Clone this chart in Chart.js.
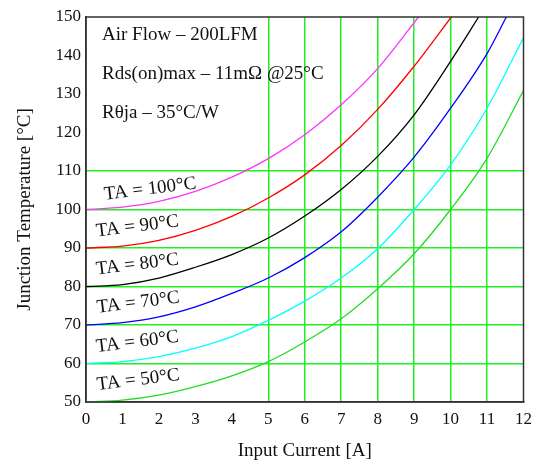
<!DOCTYPE html>
<html lang="en">
<head>
<meta charset="UTF-8">
<title>Junction Temperature vs Input Current</title>
<script src="https://cdn.jsdelivr.net/npm/chart.js@4.4.1/dist/chart.umd.min.js"></script>
<style>
  html, body { margin: 0; padding: 0; background: #fff; }
  #wrap { width: 539px; height: 466px; }
</style>
</head>
<body>
<div id="wrap"><canvas id="chart" width="539" height="466"></canvas></div>
<script>
// values
const currentA = [0, 1, 2, 3, 4, 5, 6, 7, 8, 9, 10, 11, 12];
const tj50  = [50, 50.5, 51.8, 54, 56.8, 60.5, 65.6, 71.6, 79.4, 88.5, 100, 113.3, 130.9];
const tj60  = [60, 60.5, 61.8, 64, 67, 71.2, 76.2, 82.2, 89.8, 100, 111.6, 126.3, 144.6];
const tj70  = [70, 70.6, 72.1, 74.7, 78.2, 82.2, 87.5, 94.2, 103.2, 113.6, 126.3, 140.5];
const tj80  = [80, 80.5, 82.2, 85, 88.3, 92.6, 98.3, 105.2, 113.8, 124.6, 138.5];
const tj90  = [90, 90.5, 92, 94.6, 98.2, 103, 109, 116.6, 126, 137.2];
const tj100 = [100, 100.6, 102.1, 104.7, 108.4, 113.2, 119.4, 127.2, 136.6];
// current where each curve leaves the top of the plot (150 °C)
const exitCurrent = [null, null, 11.53, 10.77, 10.02, 9.12];
const topTemp = 150;

const seriesNames = ['TA = 50°C', 'TA = 60°C', 'TA = 70°C', 'TA = 80°C', 'TA = 90°C', 'TA = 100°C'];
const seriesTemps = [tj50, tj60, tj70, tj80, tj90, tj100];
const seriesColors = ['#22dd22', '#00ffff', '#0000ff', '#000000', '#ff0000', '#ff33ff'];

// where the TA labels sit, in data units
const labelCurrent = [1.43, 1.41, 1.43, 1.41, 1.41, 1.76];
const labelTemp = [55.7, 65.6, 75.8, 85.7, 95.6, 105.3];

const notes = ['Air Flow – 200LFM', 'Rds(on)max – 11mΩ @25°C', 'Rθja – 35°C/W'];

const serif = "'Liberation Serif', 'DejaVu Serif', serif";
const gridGreen = '#22ee22';

const datasets = seriesTemps.map((temps, i) => {
  const pts = temps.map((t, k) => ({ x: currentA[k], y: t }));
  if (exitCurrent[i] !== null) pts.push({ x: exitCurrent[i], y: topTemp });
  return {
    label: seriesNames[i],
    data: pts,
    borderColor: seriesColors[i],
    borderWidth: 1.3,
    pointRadius: 0,
    showLine: true,
    fill: false,
    cubicInterpolationMode: 'monotone'
  };
});

const textPlugin = {
  id: 'texts',
  afterDatasetsDraw(chart) {
    const { ctx, chartArea, scales } = chart;
    ctx.save();
    // frame
    ctx.strokeStyle = '#333';
    ctx.lineWidth = 1.5;
    ctx.strokeRect(chartArea.left, chartArea.top, chartArea.right - chartArea.left, chartArea.bottom - chartArea.top);
    // notes in the corner
    ctx.fillStyle = '#111';
    ctx.font = '19px ' + serif;
    ctx.textBaseline = 'middle';
    ctx.textAlign = 'left';
    notes.forEach((n, i) => {
      ctx.fillText(n, chartArea.left + 16, chartArea.top + 18 + i * 39);
    });
    // TA labels, slightly tilted
    ctx.textAlign = 'center';
    seriesNames.forEach((name, i) => {
      const px = scales.x.getPixelForValue(labelCurrent[i]);
      const py = scales.y.getPixelForValue(labelTemp[i]);
      ctx.save();
      ctx.translate(px, py);
      ctx.rotate(-7 * Math.PI / 180);
      ctx.fillText(name, 0, 0);
      ctx.restore();
    });
    ctx.restore();
  }
};

new Chart(document.getElementById('chart'), {
  type: 'scatter',
  data: { datasets },
  options: {
    responsive: false,
    animation: false,
    layout: { padding: { top: 17, right: 15, left: 0, bottom: 0 } },
    plugins: { legend: { display: false }, tooltip: { enabled: false } },
    scales: {
      x: {
        type: 'linear',
        min: 0, max: 12,
        ticks: { stepSize: 1, color: '#111', font: { family: serif, size: 17 }, padding: 7 },
        grid: {
          drawTicks: false,
          lineWidth: 1.5,
          color: c => (c.tick && c.tick.value >= 5 && c.tick.value <= 11) ? gridGreen : 'rgba(0,0,0,0)'
        },
        border: { color: '#333', width: 1.5 },
        title: { display: true, text: 'Input Current [A]', color: '#111', font: { family: serif, size: 19 }, padding: { top: 2 } },
        afterFit(scale) { scale.height = 64; }
      },
      y: {
        min: 50, max: 150,
        ticks: { stepSize: 10, color: '#111', font: { family: serif, size: 17 }, padding: 5 },
        grid: {
          drawTicks: false,
          lineWidth: 1.5,
          color: c => (c.tick && c.tick.value >= 60 && c.tick.value <= 110) ? gridGreen : 'rgba(0,0,0,0)'
        },
        border: { color: '#333', width: 1.5 },
        title: { display: true, text: 'Junction Temperature [°C]', color: '#111', font: { family: serif, size: 19 }, padding: { top: 14, bottom: 4 } },
        afterFit(scale) { scale.width = 86; }
      }
    }
  },
  plugins: [textPlugin]
});
</script>
</body>
</html>
